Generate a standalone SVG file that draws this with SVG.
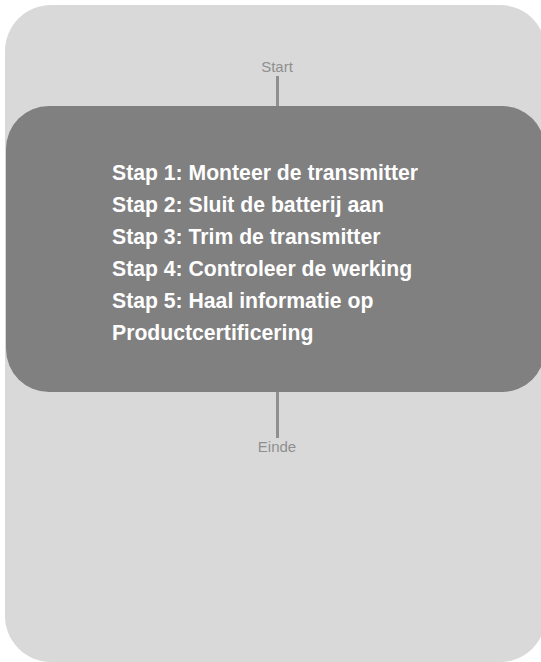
<svg xmlns="http://www.w3.org/2000/svg" width="541" height="662" viewBox="0 0 541 662">
<style>
.lbl{font-family:"Liberation Sans",Arial,sans-serif;font-size:15px;fill:#8f8f8f;text-anchor:middle}
.step{font-family:"Liberation Sans",Arial,sans-serif;font-size:21.2px;font-weight:bold;fill:#ffffff}
.conn{stroke:#8f8f8f;stroke-width:3;fill:none}
</style>
<g id="background">
<rect x="5" y="5" width="541" height="657" rx="46" ry="46" fill="#d9d9d9"/>
</g>
<g id="connectors">
<line class="conn" x1="277.5" y1="76" x2="277.5" y2="107"/>
<line class="conn" x1="277.5" y1="391" x2="277.5" y2="438"/>
</g>
<g id="start">
<text class="lbl" x="277" y="72">Start</text>
</g>
<g id="steps">
<rect x="6" y="106" width="539" height="286" rx="43" ry="43" fill="#808080"/>
<text class="step" x="112" y="179.5">Stap 1: Monteer de transmitter</text>
<text class="step" x="112" y="211.5">Stap 2: Sluit de batterij aan</text>
<text class="step" x="112" y="243.5">Stap 3: Trim de transmitter</text>
<text class="step" x="112" y="275.5">Stap 4: Controleer de werking</text>
<text class="step" x="112" y="307.5">Stap 5: Haal informatie op</text>
<text class="step" x="112" y="339.5">Productcertificering</text>
</g>
<g id="end">
<text class="lbl" x="277" y="451.5">Einde</text>
</g>
</svg>
